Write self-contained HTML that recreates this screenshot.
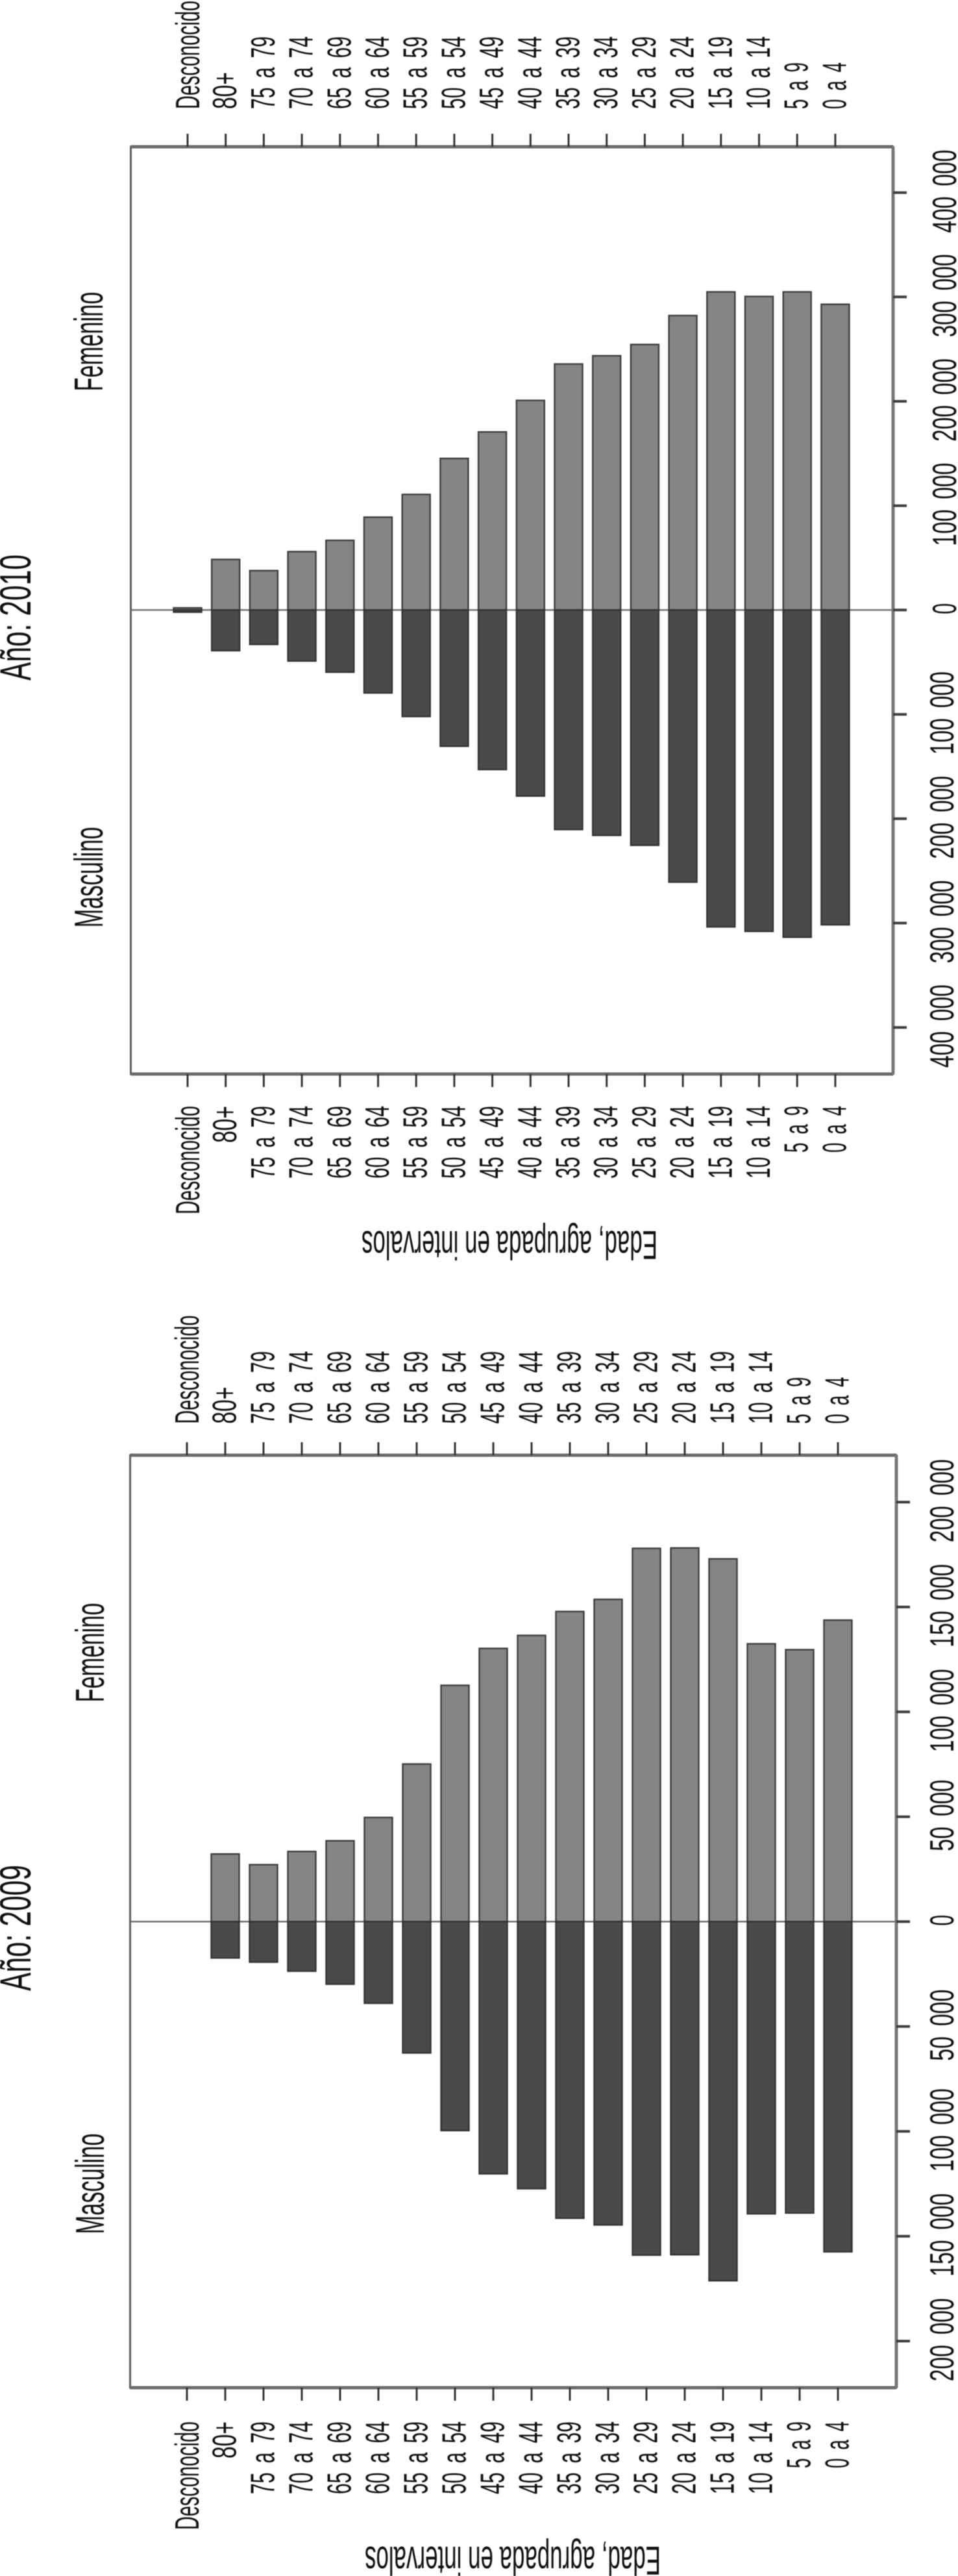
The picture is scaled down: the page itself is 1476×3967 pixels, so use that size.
<!DOCTYPE html>
<html lang="es">
<head>
<meta charset="utf-8">
<title>Pirámides de población por edad, 2009 y 2010</title>
<style>
  html, body { margin: 0; padding: 0; background: #fff; }
  body { width: 1476px; height: 3967px; overflow: hidden; }
  svg { display: block; filter: blur(0.5px); }
  text { font-family: "Liberation Sans", sans-serif; fill: #111; }
</style>
</head>
<body>
<svg id="figure" xmlns="http://www.w3.org/2000/svg" width="1476" height="3967" viewBox="0 0 1476 3967">
  <rect x="0" y="0" width="1476" height="3967" fill="#fff"/>
  <g id="chart-2010"></g>
  <g id="chart-2009"></g>
</svg>
<script>
// Chart data
var ageLabels = ["Desconocido","80+","75 a 79","70 a 74","65 a 69","60 a 64","55 a 59","50 a 54","45 a 49","40 a 44","35 a 39","30 a 34","25 a 29","20 a 24","15 a 19","10 a 14","5 a 9","0 a 4"];
var female2010 = [2800,49200,38500,56700,67500,89700,111500,146000,171400,201600,236500,244400,255200,282900,305600,301200,305600,293700];
var male2010   = [2800,39700,33700,49600,60300,80200,102800,131300,153600,179000,211100,216700,226200,261500,304400,308700,314300,302400];
var female2009 = [0,32600,27500,33800,38900,50000,75500,113000,130600,136800,148200,154000,178300,178500,173300,132800,130000,144100];
var male2009   = [0,17700,19700,24000,30200,39300,63000,100000,120600,127700,141800,145000,159400,159200,171600,139700,139300,157800];
var ticks2010  = [400000,300000,200000,100000,0,100000,200000,300000,400000];
var ticks2009  = [200000,150000,100000,50000,0,50000,100000,150000,200000];
var tickSides  = [1,1,1,1,1,-1,-1,-1,-1];

var NS = "http://www.w3.org/2000/svg";

function make(parent, tag, attrs) {
  var el = document.createElementNS(NS, tag);
  for (var k in attrs) { el.setAttribute(k, attrs[k]); }
  parent.appendChild(el);
  return el;
}

function formatTick(v) {
  var s = String(v);
  return s.length > 3 ? s.slice(0, s.length - 3) + " " + s.slice(s.length - 3) : s;
}

// Printed length of each kind of label along its reading direction
function ageLabelLength(label) {
  if (label.length > 7) { return 167; }
  if (label.length === 3) { return 57; }
  if (label.length === 5) { return 72; }
  return 112;
}

function valueLabelLength(text) {
  if (text.length >= 7) { return 128; }
  if (text.length === 6) { return 110; }
  return 17;
}

function drawChart(root, cfg) {
  function xAxis(i) { return cfg.firstTick + i * cfg.step; }
  function yAxis(v) { return cfg.zeroY - v * cfg.pxPerUnit; }

  // zero reference line
  var zero = make(root, "line", { x1: cfg.left, x2: cfg.right + 21, y1: yAxis(0), y2: yAxis(0), stroke: "#6f6f6f", "stroke-width": 2.5 });
  
  

  // bars
  var barWidth = 43;
  ageLabels.forEach(function (label, i) {
    var f = cfg.female[i];
    var m = cfg.male[i];
    var x = xAxis(i) - barWidth / 2;
    if (f > 0) {
      var fb = make(root, "rect", { x: x, y: yAxis(f) + 1.2, width: barWidth, height: yAxis(0) - yAxis(f) - 1.2, fill: "#858585", stroke: "#3d3d3d", "stroke-width": 2.4 });
      
      
    }
    if (m > 0) {
      var mb = make(root, "rect", { x: x, y: yAxis(0), width: barWidth, height: yAxis(-m) - yAxis(0) - 1.2, fill: "#4a4a4a", stroke: "#333", "stroke-width": 2.4 });
      
      
    }
  });

  // frame
  var fr = make(root, "rect", { x: cfg.left, y: cfg.top, width: cfg.right - cfg.left, height: cfg.bottom - cfg.top, fill: "none", stroke: "#5e5e5e", "stroke-width": 3 });
  
  
  var frT = make(root, "line", { x1: cfg.left, x2: cfg.right, y1: cfg.top, y2: cfg.top, stroke: "#6a6a6a", "stroke-width": 5 });
  
  
  var frB = make(root, "line", { x1: cfg.left, x2: cfg.right, y1: cfg.bottom, y2: cfg.bottom, stroke: "#6a6a6a", "stroke-width": 5 });
  
  
  var frR = make(root, "line", { x1: cfg.right, x2: cfg.right, y1: cfg.top, y2: cfg.bottom, stroke: "#777", "stroke-width": 5 });
  
  

  // age ticks and labels (top and bottom)
  ageLabels.forEach(function (label, i) {
    var x = xAxis(i);
    var t1 = make(root, "line", { x1: x, x2: x, y1: cfg.top - 20, y2: cfg.top, stroke: "#333", "stroke-width": 3 });
    
    
    var t2 = make(root, "line", { x1: x, x2: x, y1: cfg.bottom, y2: cfg.bottom + 20, stroke: "#333", "stroke-width": 3 });
    
    
    var base = x + (label === "Desconocido" ? 18 : 16.5);
    var len = ageLabelLength(label);
    var l1 = make(root, "text", { "font-size": 52, "word-spacing": 10, textLength: len, lengthAdjust: "spacingAndGlyphs", "text-anchor": "start", transform: "translate(" + base + "," + cfg.topLabelY + ") rotate(-90)" });
    l1.textContent = label;
    
    
    var l2 = make(root, "text", { "font-size": 52, "word-spacing": 10, textLength: len, lengthAdjust: "spacingAndGlyphs", "text-anchor": "start", transform: "translate(" + base + "," + (cfg.bottomLabelY + len) + ") rotate(-90)" });
    l2.textContent = label;
    
    
  });

  // value ticks and labels
  cfg.ticks.forEach(function (v, i) {
    var y = yAxis(v * tickSides[i]);
    var tk = make(root, "line", { x1: cfg.right, x2: cfg.right + 21, y1: y, y2: y, stroke: "#3c3c3c", "stroke-width": 4 });
    
    
    var base = tickSides[i] > 0 ? cfg.valueBaseFemale : cfg.valueBaseMale;
    var text = formatTick(v);
    var len = valueLabelLength(text);
    var lb = make(root, "text", { "font-size": 52, "word-spacing": 10, textLength: len, lengthAdjust: "spacingAndGlyphs", "text-anchor": "start", transform: "translate(" + base + "," + (y - 2 + len / 2) + ") rotate(-90)" });
    lb.textContent = text;
    
    
  });

  // series names
  var fe = make(root, "text", { "font-size": 62, textLength: 153, lengthAdjust: "spacingAndGlyphs", "text-anchor": "start", transform: "translate(" + cfg.seriesBase + "," + (cfg.femaleLabelY + 76.5) + ") rotate(-90)" });
  fe.textContent = "Femenino";
  
  
  var ma = make(root, "text", { "font-size": 62, textLength: 155, lengthAdjust: "spacingAndGlyphs", "text-anchor": "start", transform: "translate(" + cfg.seriesBase + "," + (cfg.maleLabelY + 77.5) + ") rotate(-90)" });
  ma.textContent = "Masculino";
  
  

  // chart title
  var ti = make(root, "text", { "font-size": 68, textLength: 194, lengthAdjust: "spacingAndGlyphs", "text-anchor": "start", transform: "translate(47," + cfg.titleY + ") rotate(-90)" });
  ti.textContent = cfg.title;
  
  

  // age axis title, printed upside down
  var at = make(root, "text", { "font-size": 62, textLength: 456, lengthAdjust: "spacingAndGlyphs", "text-anchor": "start", transform: "translate(" + (cfg.axisTitleX + 228) + "," + cfg.axisTitleY + ") rotate(180)" });
  at.textContent = "Edad, agrupada en intervalos";
  
  
}

drawChart(document.getElementById("chart-2010"), {
  title: "Año: 2010", female: female2010, male: male2010, ticks: ticks2010,
  left: 201.5, right: 1376, top: 226, bottom: 1654,
  firstTick: 289, step: 58.7,
  zeroY: 939.4, pxPerUnit: 160.7 / 100000,
  topLabelY: 168, bottomLabelY: 1703,
  valueBaseFemale: 1473, valueBaseMale: 1469,
  seriesBase: 158, femaleLabelY: 526, maleLabelY: 1351,
  titleY: 1048, axisTitleX: 785, axisTitleY: 1896
});

drawChart(document.getElementById("chart-2009"), {
  title: "Año: 2009", female: female2009, male: male2009, ticks: ticks2009,
  left: 200.5, right: 1381, top: 2241, bottom: 3677,
  firstTick: 288, step: 59.0,
  zeroY: 2959.2, pxPerUnit: 161.5 / 50000,
  topLabelY: 2192.6, bottomLabelY: 3729,
  valueBaseFemale: 1469, valueBaseMale: 1469,
  seriesBase: 160, femaleLabelY: 2545, maleLabelY: 3363,
  titleY: 3066, axisTitleX: 790, axisTitleY: 3922
});
</script>
</body>
</html>
